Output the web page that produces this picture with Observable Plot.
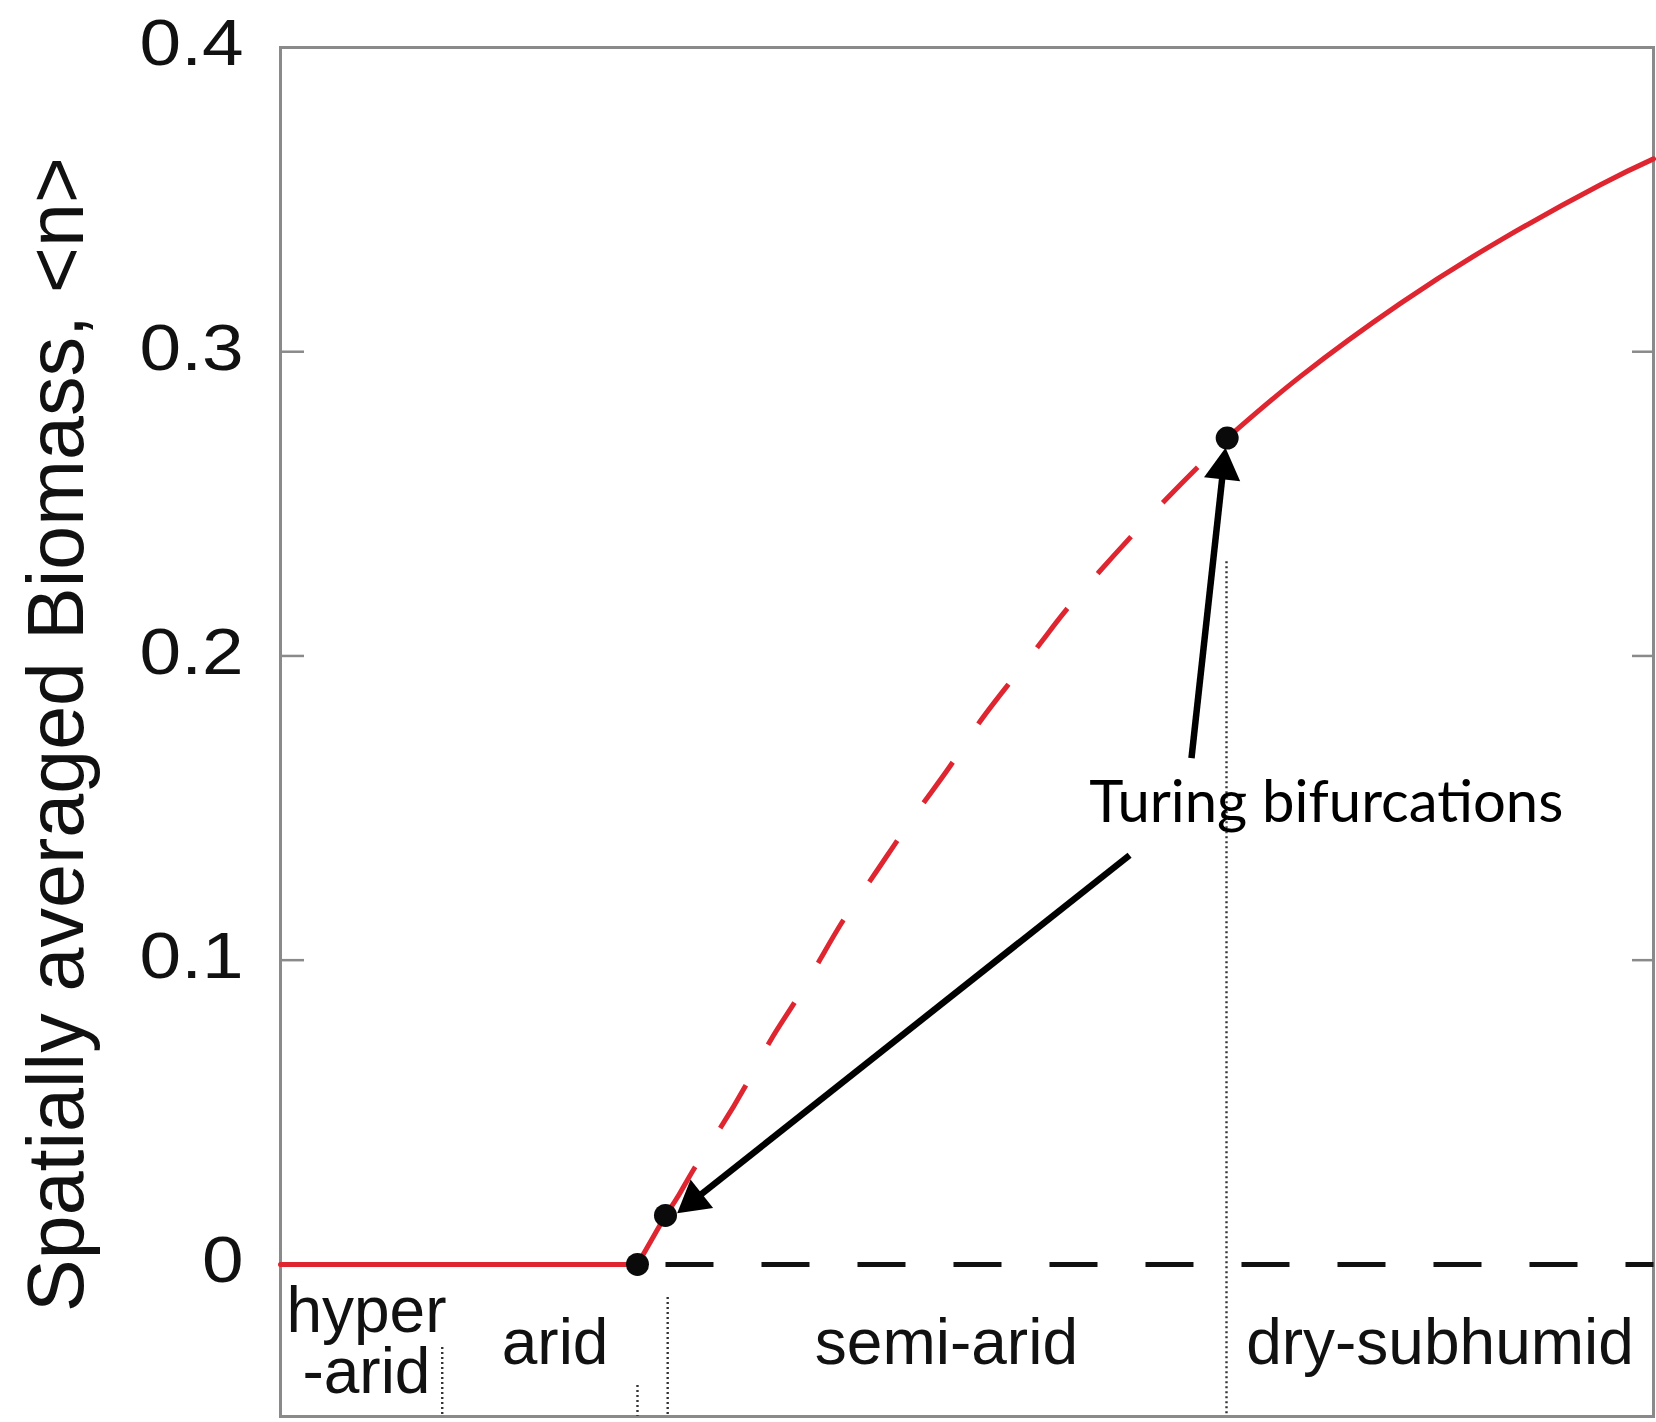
<!DOCTYPE html>
<html>
<head>
<meta charset="utf-8">
<script src="https://cdn.jsdelivr.net/npm/d3@7"></script>
<script src="https://cdn.jsdelivr.net/npm/@observablehq/plot@0.6"></script>
<style>
  html, body { margin: 0; padding: 0; background: #fff; overflow: hidden; }
</style>
</head>
<body>
<div id="chart"></div>
<script>
// ---------------- data ----------------
const yTicks = [0, 0.1, 0.2, 0.3, 0.4];
const yTickLabels = ["0", "0.1", "0.2", "0.3", "0.4"];
const yLabel = "Spatially averaged Biomass, <n>";

// stable bare-soil branch and first short rise (solid red)
const bareX = [0, 26.0, 28.04];
const bareY = [0, 0, 0.0161];
// unstable uniform-vegetation branch (dashed red)
const unstableX = [28.04, 29.0, 30.2, 32.0, 33.9, 35.7, 37.4, 39.3, 41.0, 43.0, 44.8, 46.8, 48.8, 50.8, 52.9, 55.4, 57.2, 59.6, 61.7, 64.5, 66.9, 68.95];
const unstableY = [0.0161, 0.0227, 0.032, 0.0446, 0.0589, 0.0737, 0.0858, 0.1002, 0.1132, 0.1265, 0.1385, 0.1515, 0.164, 0.1775, 0.190, 0.2045, 0.215, 0.2275, 0.238, 0.2515, 0.2625, 0.2716];
// stable uniform-vegetation branch (solid red)
const stableX = [68.95, 74.29, 81.57, 88.86, 96.14, 100];
const stableY = [0.2716, 0.2919, 0.3159, 0.3367, 0.3549, 0.3634];
// unstable bare-soil (dashed black)
const bareUnstableX = [28.04, 100];
const bareUnstableY = [0, 0];
// bifurcation points
const pointX = [26.0, 28.04, 68.95];
const pointY = [0, 0.0161, 0.2716];
// climate zones
const zoneLabels = ["hyper\n-arid", "arid", "semi-arid", "dry-subhumid"];
const zoneLabelX = [6.26, 20.0, 48.5, 84.45];
const zoneLabelY = [-0.0423, -0.0326, -0.0326, -0.0326];
const boundaryX = [11.78, 26.0, 28.2, 68.9];
const boundaryTop = [-0.0273, -0.0398, -0.0109, 0.231];
const boundaryBottom = [-0.05, -0.05, -0.05, -0.05];
// annotation
const annotationText = ["Turing bifurcations"];
const annotationX = [58.9];
const annotationY = [0.1454];
const arrowFromX = [66.35, 61.84];
const arrowFromY = [0.1664, 0.1345];
const arrowToX = [68.83, 28.89];
const arrowToY = [0.2684, 0.0168];

// ---------------- layout ----------------
const width = 1656, height = 1422;
const marginLeft = 280, marginRight = 3, marginTop = 47, marginBottom = 6;
const xDomain = [0, 100], yDomain = [-0.05, 0.4];
const red = "#de2530";
const frameGray = "#8a8a8a";
const sans = "'Liberation Sans', Arial, Helvetica, sans-serif";

const sx = d3.scaleLinear(xDomain, [marginLeft, width - marginRight]);
const sy = d3.scaleLinear(yDomain, [height - marginBottom, marginTop]);
const headR = 13.5;
const arrows = arrowFromX.map((_, i) => {
  const x0 = sx(arrowFromX[i]), y0 = sy(arrowFromY[i]);
  const x1 = sx(arrowToX[i]), y1 = sy(arrowToY[i]);
  const L = Math.hypot(x1 - x0, y1 - y0);
  const ux = (x1 - x0) / L, uy = (y1 - y0) / L;
  const c = 1.555 * headR, e = 1.8 * headR;
  return {
    x1: arrowFromX[i], y1: arrowFromY[i],
    x2: sx.invert(x1 - ux * e), y2: sy.invert(y1 - uy * e),
    hx: sx.invert(x1 - ux * c), hy: sy.invert(y1 - uy * c),
    angle: Math.atan2(ux, -uy) * 180 / Math.PI
  };
});

const boundaries = boundaryX.map((x, i) => ({x, y1: boundaryTop[i], y2: boundaryBottom[i]}));
const zones = zoneLabels.map((t, i) => ({t, x: zoneLabelX[i], y: zoneLabelY[i]}));

const plot = Plot.plot({
  width, height, marginLeft, marginRight, marginTop, marginBottom,
  x: {domain: xDomain, axis: null},
  y: {domain: yDomain, axis: null},
  style: {background: "#fff", color: "#111"},
  marks: [
    Plot.frame({stroke: frameGray, strokeWidth: 3}),
    // inward tick marks
    Plot.axisY(yTicks, {anchor: "left", tickSize: -24, fill: "none", stroke: frameGray, strokeWidth: 2.5, label: null}),
    Plot.axisY(yTicks, {anchor: "right", tickSize: -22, fill: "none", stroke: frameGray, strokeWidth: 2.5, label: null}),
    // tick labels
    Plot.axisY(yTicks, {
      anchor: "left", tickSize: 0, tickPadding: 37, dy: -3,
      tickFormat: d => yTickLabels[yTicks.indexOf(d)],
      fontSize: 65, fontFamily: sans, fill: "#111", label: null
    }),
    // y label
    Plot.text([yLabel], {
      frameAnchor: "left", text: d => d, rotate: -90, textAnchor: "middle",
      lineAnchor: "bottom", dx: -198, dy: 2.5, fontSize: 79, fontFamily: sans, fill: "#111"
    }),
    // zone boundaries
    Plot.ruleX(boundaries, {x: "x", y1: "y1", y2: "y2", stroke: "#333", strokeWidth: 2.4, strokeDasharray: "2,3"}),
    // zone labels
    Plot.text(zones, {
      x: "x", y: "y", text: "t", lineAnchor: "bottom", lineHeight: 0.95,
      fontSize: 64, fontFamily: sans, fill: "#111"
    }),
    // bare soil unstable (black dashed)
    Plot.line(bareUnstableX.map((x, i) => ({x, y: bareUnstableY[i]})), {
      x: "x", y: "y", stroke: "#111", strokeWidth: 5, strokeDasharray: "48,48", strokeLinecap: "butt"
    }),
    // red branches
    Plot.line(bareX.map((x, i) => ({x, y: bareY[i]})), {x: "x", y: "y", stroke: red, strokeWidth: 5}),
    Plot.line(unstableX.map((x, i) => ({x, y: unstableY[i]})), {
      x: "x", y: "y", stroke: red, strokeWidth: 5, curve: "natural",
      strokeDasharray: "50,46", strokeDashoffset: 89, strokeLinecap: "butt"
    }),
    Plot.line(stableX.map((x, i) => ({x, y: stableY[i]})), {x: "x", y: "y", stroke: red, strokeWidth: 5, curve: "natural"}),
    // bifurcation points
    Plot.dot(pointX.map((x, i) => ({x, y: pointY[i]})), {x: "x", y: "y", r: 11.5, fill: "#0a0a0a", stroke: "none"}),
    // annotation text
    Plot.text(annotationText, {
      x: annotationX, y: annotationY, text: d => d, textAnchor: "start", lineAnchor: "bottom",
      fontSize: 58, fontFamily: "Lato, 'Open Sans', sans-serif", fill: "#000"
    }),
    // arrows
    Plot.link(arrows, {x1: "x1", y1: "y1", x2: "x2", y2: "y2", stroke: "#000", strokeWidth: 6.5}),
    Plot.dot(arrows, {x: "hx", y: "hy", symbol: "triangle", r: headR, rotate: "angle", fill: "#000", stroke: "none"})
  ]
});

// widen the tick-label digits slightly, like the reference
d3.select(plot).selectAll("g[aria-label='y-axis tick label'] text").each(function () {
  const t = this.getAttribute("transform") || "";
  this.setAttribute("transform", t + " scale(1.15,1)");
});

document.getElementById("chart").appendChild(plot);
</script>
</body>
</html>
